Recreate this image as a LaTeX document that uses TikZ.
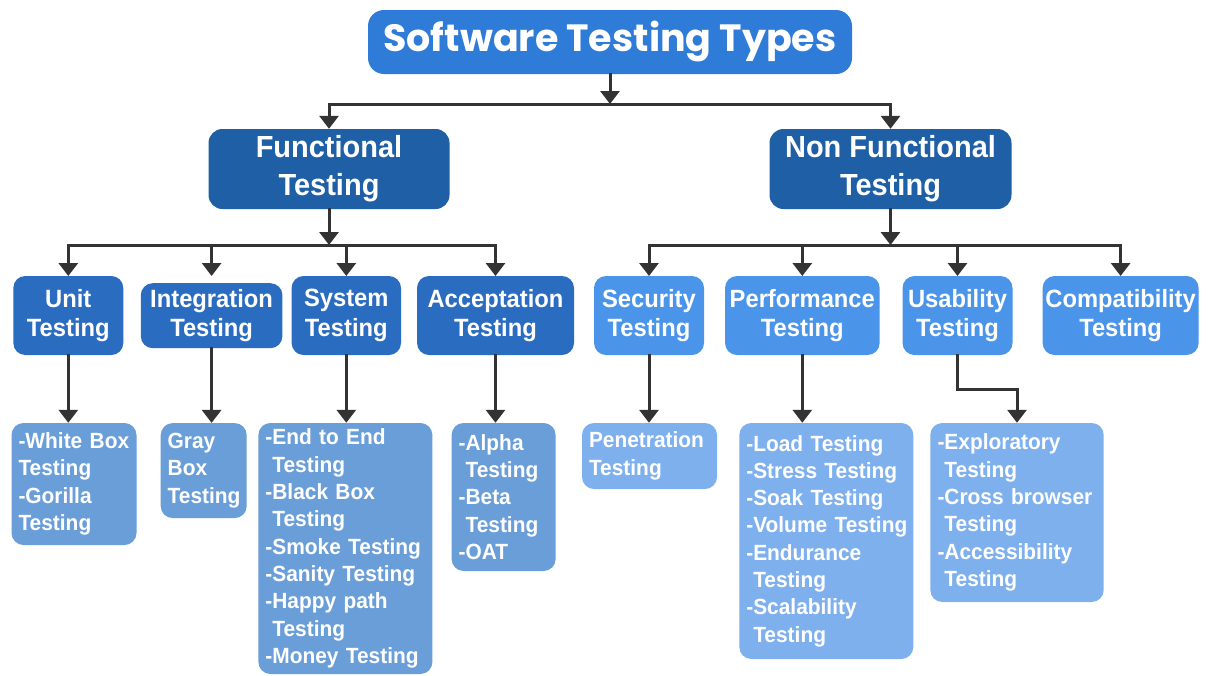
\documentclass[tikz,border=0pt]{standalone}
\usepackage{fontspec}
\setmainfont{Liberation Sans}[FakeStretch=0.95]
\newfontfamily\titlefont{Poppins}
\usetikzlibrary{arrows.meta}
\hyphenation{Testing Volume Endurance Scalability Exploratory Accessibility Penetration}

\definecolor{topblue}{HTML}{2F7BD8}
\definecolor{mainblue}{HTML}{1F5FA6}
\definecolor{funcblue}{HTML}{2A6CC0}
\definecolor{nfblue}{HTML}{4A94EA}
\definecolor{funcleaf}{HTML}{6A9ED8}
\definecolor{nfleaf}{HTML}{7EB0EE}
\definecolor{wirecol}{HTML}{333333}

\tikzset{
  box/.style={rounded corners=12pt, text=white, align=center, inner sep=0pt},
  rootbox/.style={box, fill=topblue, rounded corners=16pt,
    font=\titlefont\bfseries\fontsize{38}{42}\selectfont},
  mainbox/.style={box, fill=mainblue, rounded corners=14pt,
    font=\bfseries\fontsize{30.5}{38}\selectfont},
  kindbox/.style={box, font=\bfseries\fontsize{25}{29.5}\selectfont},
  funckind/.style={kindbox, fill=funcblue},
  nfkind/.style={kindbox, fill=nfblue},
  leafbox/.style={box, align=left, inner xsep=7pt, inner ysep=0pt,
    font=\bfseries\fontsize{22}{27.3}\selectfont},
  funcleafbox/.style={leafbox, fill=funcleaf},
  nfleafbox/.style={leafbox, fill=nfleaf},
  wire/.style={draw=wirecol, line width=3pt, line cap=rect},
  arrowed/.style={-{Triangle[width=19pt,length=13pt]}},
}

\begin{document}
\begin{tikzpicture}[x=1pt, y=-1pt]
  \fill[white] (0,0) rectangle (1208,675);
  \useasboundingbox (0,0) rectangle (1208,675);

  % root
  \node[rootbox, minimum width=484pt, minimum height=64pt] (root) at (610,42)
    {Software Testing Types};

  % two main families
  \node[mainbox, minimum width=241pt, minimum height=80pt] (func) at (329,169)
    {Functional\\Testing};
  \node[mainbox, minimum width=242pt, minimum height=80pt] (nonfunc) at (890.5,169)
    {Non Functional\\Testing};

  % functional kinds
  \node[funckind, minimum width=110pt, minimum height=79pt] (unit) at (68.3,315.5)
    {Unit\\Testing};
  \node[funckind, minimum width=141.6pt, minimum height=65pt] (integ) at (211.6,315.7)
    {Integration\\Testing};
  \node[funckind, minimum width=109.4pt, minimum height=79pt] (system) at (346.3,315.5)
    {System\\Testing};
  \node[funckind, minimum width=157pt, minimum height=79pt] (accept) at (495.5,315.5)
    {Acceptation\\Testing};

  % non functional kinds
  \node[nfkind, minimum width=110pt, minimum height=79pt] (secur) at (649,315.5)
    {Security\\Testing};
  \node[nfkind, minimum width=154.6pt, minimum height=79pt] (perf) at (802.3,315.5)
    {Performance\\Testing};
  \node[nfkind, minimum width=110pt, minimum height=79pt] (usab) at (957.5,315.5)
    {Usability\\Testing};
  \node[nfkind, minimum width=156pt, minimum height=79pt] (compat) at (1120.6,315.5)
    {Compatibility\\Testing};

  % functional leaves
  \node[funcleafbox, minimum width=125pt, minimum height=122pt, text width=111pt]
    (unitlist) at (74,484)
    {\mbox{-White Box}\\Testing\\-Gorilla\\Testing};
  \node[funcleafbox, minimum width=86pt, minimum height=95pt, text width=72pt]
    (integlist) at (203.7,470.6)
    {Gray\\Box\\Testing};
  \node[funcleafbox, minimum width=174pt, minimum height=251pt, text width=160pt]
    (syslist) at (345.4,548.5)
    {\mbox{-End to End}\\\hphantom{-}Testing\\\mbox{-Black Box}\\\hphantom{-}Testing\\\mbox{-Smoke Testing}\\\mbox{-Sanity Testing}\\\mbox{-Happy path}\\\hphantom{-}Testing\\\mbox{-Money Testing}};
  \node[funcleafbox, minimum width=104pt, minimum height=148pt, text width=90pt]
    (acclist) at (503.6,497)
    {-Alpha\\\hphantom{-}Testing\\-Beta\\\hphantom{-}Testing\\-OAT};

  % non functional leaves
  \node[nfleafbox, minimum width=135pt, minimum height=66pt, text width=121pt]
    (seclist) at (649.5,456)
    {Penetration\\Testing};
  \node[nfleafbox, minimum width=174pt, minimum height=236pt, text width=160pt]
    (perflist) at (826.3,541)
    {\mbox{-Load Testing}\\\mbox{-Stress Testing}\\\mbox{-Soak Testing}\\\mbox{-Volume Testing}\\-Endurance\\\hphantom{-}Testing\\-Scalability\\\hphantom{-}Testing};
  \node[nfleafbox, minimum width=173.4pt, minimum height=179pt, text width=159pt]
    (usablist) at (1017,512.5)
    {-Exploratory\\\hphantom{-}Testing\\\mbox{-Cross browser}\\\hphantom{-}Testing\\-Accessibility\\\hphantom{-}Testing};

  % connectors: root to families
  \coordinate (bar0) at (610,104);
  \draw[wire, arrowed] (root.south) -- (bar0);
  \draw[wire] (func.north |- bar0) -- (nonfunc.north |- bar0);
  \draw[wire, arrowed] (func.north |- bar0) -- (func.north);
  \draw[wire, arrowed] (nonfunc.north |- bar0) -- (nonfunc.north);

  % connectors: families to kinds
  \coordinate (barF) at (330,245);
  \coordinate (barN) at (891,245);
  \coordinate (kindtop) at (0,276);
  \draw[wire, arrowed] (func.south) -- (func.south |- barF);
  \draw[wire] (unit.north |- barF) -- (accept.north |- barF);
  \foreach \k in {unit, integ, system, accept}
    \draw[wire, arrowed] (\k.north |- barF) -- (\k.north |- kindtop);
  \draw[wire, arrowed] (nonfunc.south) -- (nonfunc.south |- barN);
  \draw[wire] (secur.north |- barN) -- (compat.north |- barN);
  \foreach \k in {secur, perf, usab, compat}
    \draw[wire, arrowed] (\k.north |- barN) -- (\k.north |- kindtop);

  % connectors: kinds to leaves
  \draw[wire, arrowed] (unit.south) -- (unit.south |- unitlist.north);
  \draw[wire, arrowed] (integ.south) -- (integ.south |- integlist.north);
  \draw[wire, arrowed] (system.south) -- (system.south |- syslist.north);
  \draw[wire, arrowed] (accept.south) -- (accept.south |- acclist.north);
  \draw[wire, arrowed] (secur.south) -- (secur.south |- seclist.north);
  \draw[wire, arrowed] (perf.south) -- (perf.south |- perflist.north);
  \coordinate (elbow) at (1017,389);
  \draw[wire, arrowed] (usab.south) |- (elbow) -- (usablist.north);
\end{tikzpicture}
\end{document}
